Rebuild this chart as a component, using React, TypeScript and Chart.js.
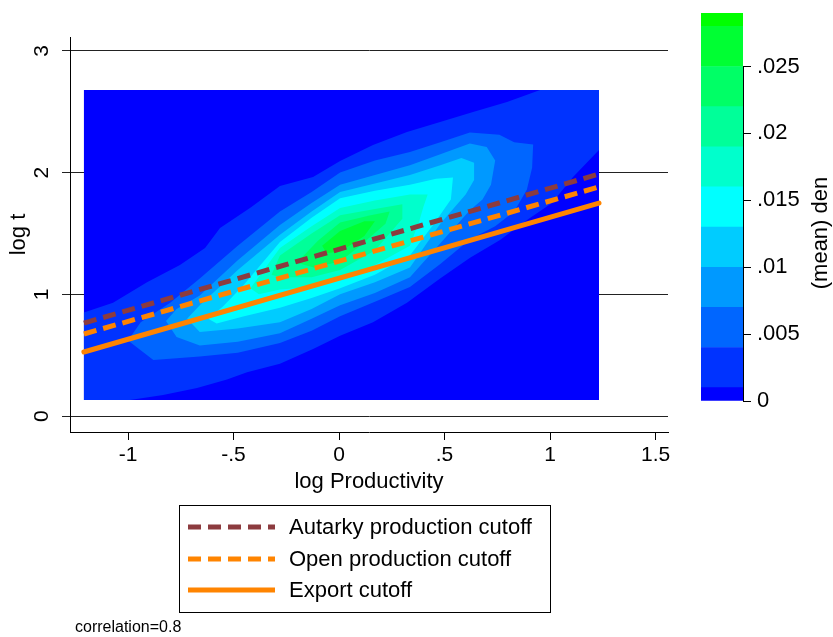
import React, { useEffect, useRef } from 'react';
import { Chart, registerables } from 'chart.js';

Chart.register(...registerables);

const FONT = '"Liberation Sans", Arial, Helvetica, sans-serif';

// ---- axes ----
const xTickValues = [-1, -0.5, 0, 0.5, 1, 1.5];
const xTickLabels = ['-1', '-.5', '0', '.5', '1', '1.5'];
const yTickValues = [0, 1, 2, 3];
const yTickLabels = ['0', '1', '2', '3'];
const xRange = [-1.275, 1.559];
const yRange = [-0.131, 3.114];
const xTitle = 'log Productivity';
const yTitle = 'log t';
const noteText = 'correlation=0.8';

// ---- colour scale (density bands) ----
const densityBreaks = [0, 0.001, 0.004, 0.007, 0.01, 0.013, 0.016, 0.019, 0.022, 0.025, 0.028, 0.029];
const densityColors = ['#0000ff', '#0033ff', '#0066ff', '#0099ff', '#00ccff', '#00ffff', '#00ffcc', '#00ff99', '#00ff66', '#00ff33', '#00ff00'];
const colorbarTickValues = [0, 0.005, 0.01, 0.015, 0.02, 0.025];
const colorbarTickLabels = ['0', '.005', '.01', '.015', '.02', '.025'];
const colorbarTitle = '(mean) den';

// ---- cutoff lines ----
const cutoffLabels = ['Autarky production cutoff', 'Open production cutoff', 'Export cutoff'];
const cutoffX = [-1.209, 1.232];
const autarkyCutoff = [0.764, 1.988];
const openCutoff = [0.674, 1.882];
const exportCutoff = [0.526, 1.75];

// ---- density contour regions (x, y), band 1 = lowest ----
const contourBand1 = [[-1.209, 0.131], [1.232, 0.131], [1.232, 2.679], [-1.209, 2.679]];
const contourBand2 = [
  [-1.209, 0.85], [-1.071, 0.93], [-0.91, 1.1], [-0.754, 1.241], [-0.635, 1.38], [-0.564, 1.545],
  [-0.422, 1.709], [-0.28, 1.89], [-0.123, 1.964], [0.005, 2.095], [0.161, 2.227], [0.322, 2.334],
  [0.479, 2.416], [0.635, 2.498], [0.796, 2.58], [0.953, 2.679], [1.232, 2.679], [1.232, 2.186],
  [1.109, 1.964], [1.009, 1.75], [0.891, 1.611], [0.763, 1.446], [0.621, 1.3], [0.479, 1.13],
  [0.322, 0.93], [0.161, 0.77], [0.005, 0.66], [-0.123, 0.55], [-0.28, 0.43], [-0.436, 0.36],
  [-0.531, 0.3], [-0.673, 0.23], [-0.834, 0.173], [-0.991, 0.131], [-1.209, 0.131],
];
const contourBand3 = [
  [-1.0, 0.62], [-0.94, 0.77], [-0.8, 0.93], [-0.66, 1.13], [-0.48, 1.4], [-0.28, 1.68], [-0.13, 1.84],
  [0.005, 2.0], [0.17, 2.1], [0.336, 2.17], [0.48, 2.25], [0.62, 2.33], [0.76, 2.31], [0.83, 2.25],
  [0.92, 2.23], [0.915, 2.04], [0.89, 1.86], [0.83, 1.68], [0.74, 1.56], [0.62, 1.45], [0.48, 1.25],
  [0.336, 1.06], [0.17, 0.94], [0.005, 0.82], [-0.13, 0.7], [-0.28, 0.6], [-0.48, 0.52], [-0.66, 0.49],
  [-0.88, 0.46],
];
const contourBand4 = [
  [-0.82, 0.78], [-0.77, 0.88], [-0.66, 0.99], [-0.48, 1.28], [-0.28, 1.57], [-0.13, 1.75],
  [0.005, 1.9], [0.17, 1.98], [0.336, 2.06], [0.48, 2.15], [0.62, 2.24], [0.7, 2.21], [0.74, 2.1],
  [0.72, 1.9], [0.68, 1.78], [0.62, 1.69], [0.48, 1.42], [0.336, 1.14], [0.17, 1.01], [0.005, 0.91],
  [-0.13, 0.8], [-0.28, 0.68], [-0.48, 0.61], [-0.66, 0.58], [-0.77, 0.65],
];
const contourBand5 = [
  [-0.72, 0.8], [-0.66, 0.91], [-0.48, 1.2], [-0.28, 1.49], [-0.13, 1.68], [0.005, 1.84], [0.17, 1.91],
  [0.336, 1.98], [0.48, 2.06], [0.58, 2.12], [0.64, 2.08], [0.64, 1.94], [0.6, 1.82], [0.48, 1.58],
  [0.336, 1.22], [0.17, 1.1], [0.005, 1.0], [-0.13, 0.88], [-0.28, 0.77], [-0.48, 0.72], [-0.66, 0.69],
];
const contourBand6 = [
  [-0.62, 0.8], [-0.55, 0.9], [-0.45, 1.08], [-0.28, 1.43], [-0.13, 1.63], [0.005, 1.79], [0.17, 1.85],
  [0.336, 1.9], [0.46, 1.95], [0.54, 1.96], [0.53, 1.78], [0.45, 1.58], [0.336, 1.32], [0.17, 1.16],
  [0.005, 1.05], [-0.13, 0.97], [-0.28, 0.89], [-0.45, 0.82], [-0.58, 0.76],
];
const contourBand7 = [
  [-0.42, 1.05], [-0.28, 1.38], [-0.13, 1.56], [0.005, 1.71], [0.17, 1.77], [0.336, 1.82], [0.42, 1.82],
  [0.4, 1.72], [0.38, 1.6], [0.336, 1.4], [0.17, 1.24], [0.005, 1.12], [-0.13, 1.06], [-0.28, 1.04],
  [-0.38, 1.0],
];
const contourBand8 = [
  [-0.32, 1.16], [-0.28, 1.32], [-0.13, 1.5], [0.005, 1.65], [0.17, 1.7], [0.3, 1.74], [0.3, 1.62],
  [0.17, 1.36], [0.005, 1.2], [-0.13, 1.14], [-0.28, 1.14],
];
const contourBand9 = [
  [-0.2, 1.26], [-0.1, 1.44], [0.005, 1.59], [0.15, 1.65], [0.24, 1.68], [0.22, 1.58], [0.1, 1.4],
  [0.005, 1.27], [-0.12, 1.22],
];
const contourBand10 = [
  [-0.08, 1.4], [0.005, 1.52], [0.12, 1.6], [0.17, 1.6], [0.12, 1.48], [0.005, 1.35], [-0.06, 1.34],
];

const contourBands = [
  contourBand1, contourBand2, contourBand3, contourBand4, contourBand5,
  contourBand6, contourBand7, contourBand8, contourBand9, contourBand10,
];

const AUTARKY_COLOR = '#8c3b3f';
const ORANGE = '#ff8400';

const legendPlugin = {
  id: 'cutoffLegend',
  afterDraw(chart: any) {
    const ctx = chart.ctx;
    ctx.save();
    ctx.strokeStyle = '#000';
    ctx.lineWidth = 1;
    ctx.setLineDash([]);
    ctx.strokeRect(179.5, 505.5, 371, 107);
    const rows = [527, 559, 590];
    const items = chart.data.datasets.filter((d: any) => d.isCutoff);
    items.forEach((ds: any, i: number) => {
      ctx.strokeStyle = ds.borderColor;
      ctx.lineWidth = ds.borderWidth;
      ctx.setLineDash(ds.borderDash || []);
      ctx.lineCap = 'butt';
      ctx.beginPath();
      ctx.moveTo(188, rows[i]);
      ctx.lineTo(275, rows[i]);
      ctx.stroke();
      ctx.setLineDash([]);
      ctx.fillStyle = '#000';
      ctx.font = `22px ${FONT}`;
      ctx.textBaseline = 'middle';
      ctx.textAlign = 'left';
      ctx.fillText(ds.label, 289, rows[i] + 1);
    });
    ctx.font = `16px ${FONT}`;
    ctx.fillStyle = '#000';
    ctx.textBaseline = 'middle';
    ctx.fillText(noteText, 75, 628);
    ctx.restore();
  },
};

const colorbarPlugin = {
  id: 'colorbarExtras',
  afterDraw(chart: any) {
    const ctx = chart.ctx;
    const y = chart.scales.y;
    const x = chart.chartArea.right;
    ctx.save();
    ctx.strokeStyle = '#000';
    ctx.lineWidth = 1;
    ctx.beginPath();
    ctx.moveTo(x + 0.5, y.getPixelForValue(colorbarTickValues[0]));
    ctx.lineTo(x + 0.5, y.getPixelForValue(colorbarTickValues[colorbarTickValues.length - 1]));
    ctx.stroke();
    ctx.translate(131, 233);
    ctx.rotate(-Math.PI / 2);
    ctx.font = `22px ${FONT}`;
    ctx.fillStyle = '#000';
    ctx.textAlign = 'center';
    ctx.textBaseline = 'middle';
    ctx.fillText(colorbarTitle, 0, 0);
    ctx.restore();
  },
};

export default function App() {
  const mainRef = useRef<HTMLCanvasElement>(null);
  const barRef = useRef<HTMLCanvasElement>(null);

  useEffect(() => {
    document.body.style.margin = '0';
    const cutoffDatasets = [
      { label: cutoffLabels[0], values: autarkyCutoff, color: AUTARKY_COLOR, dash: [13, 7], cap: 'butt' },
      { label: cutoffLabels[1], values: openCutoff, color: ORANGE, dash: [13, 7], cap: 'butt' },
      { label: cutoffLabels[2], values: exportCutoff, color: ORANGE, dash: [], cap: 'round' },
    ].map((c) => ({
      label: c.label,
      isCutoff: true,
      data: cutoffX.map((x, i) => ({ x, y: c.values[i] })),
      showLine: true,
      borderColor: c.color,
      borderWidth: 5,
      borderDash: c.dash,
      borderCapStyle: c.cap,
      pointRadius: 0,
      fill: false,
    }));
    const contourDatasets = contourBands
      .map((pts, i) => ({
        label: `band ${i + 1}`,
        data: [...pts, pts[0]].map(([x, y]) => ({ x, y })),
        showLine: true,
        fill: 'shape',
        backgroundColor: densityColors[i],
        borderWidth: 0,
        pointRadius: 0,
      }))
      .reverse();

    const main = new Chart(mainRef.current!, {
      type: 'scatter',
      data: { datasets: [...cutoffDatasets, ...contourDatasets] as any },
      options: {
        animation: false,
        responsive: false,
        maintainAspectRatio: false,
        layout: { padding: { left: 0, top: 37, right: 165, bottom: 137 } },
        plugins: { legend: { display: false }, tooltip: { enabled: false } },
        elements: { line: { tension: 0 }, point: { radius: 0 } },
        scales: {
          x: {
            type: 'linear',
            min: xRange[0],
            max: xRange[1],
            afterBuildTicks: (s: any) => { s.ticks = xTickValues.map((value) => ({ value })); },
            afterFit: (s: any) => { s.height = 68; },
            ticks: {
              autoSkip: false,
              maxRotation: 0,
              callback: (_v: any, i: number) => xTickLabels[i],
              font: { family: FONT, size: 21 },
              color: '#000',
              padding: 3,
            },
            grid: { drawOnChartArea: false, drawTicks: true, tickLength: 8, color: '#000' },
            border: { display: true, color: '#000', width: 1 },
            title: { display: true, text: xTitle, font: { family: FONT, size: 22 }, color: '#000', padding: { top: 0, bottom: 5 } },
          },
          y: {
            type: 'linear',
            min: yRange[0],
            max: yRange[1],
            afterBuildTicks: (s: any) => { s.ticks = yTickValues.map((value) => ({ value })); },
            afterFit: (s: any) => { s.width = 70; },
            ticks: {
              autoSkip: false,
              minRotation: 90,
              maxRotation: 90,
              crossAlign: 'center',
              callback: (_v: any, i: number) => yTickLabels[i],
              font: { family: FONT, size: 21 },
              color: '#000',
              padding: 14,
            },
            grid: { drawOnChartArea: true, drawTicks: true, tickLength: 8, color: '#222', lineWidth: 1 },
            border: { display: true, color: '#000', width: 1 },
            title: { display: true, text: yTitle, font: { family: FONT, size: 22 }, color: '#000', padding: { top: 6, bottom: 0 } },
          },
        },
      } as any,
      plugins: [legendPlugin],
    });

    const bar = new Chart(barRef.current!, {
      type: 'bar',
      data: {
        labels: [''],
        datasets: densityColors.map((c, i) => ({
          label: `${densityBreaks[i]}`,
          data: [[densityBreaks[i], densityBreaks[i + 1]]],
          backgroundColor: c,
          borderWidth: 0,
          barPercentage: 1,
          categoryPercentage: 1,
          grouped: false,
        })) as any,
      },
      options: {
        animation: false,
        responsive: false,
        maintainAspectRatio: false,
        layout: { padding: { left: 11, top: 13, bottom: 19, right: 0 } },
        plugins: { legend: { display: false }, tooltip: { enabled: false } },
        scales: {
          x: { display: false },
          y: {
            position: 'right',
            min: densityBreaks[0],
            max: densityBreaks[densityBreaks.length - 1],
            afterBuildTicks: (s: any) => { s.ticks = colorbarTickValues.map((value) => ({ value })); },
            afterFit: (s: any) => { s.width = 90; s.paddingTop = 0; s.paddingBottom = 0; },
            ticks: {
              autoSkip: false,
              callback: (_v: any, i: number) => colorbarTickLabels[i],
              font: { family: FONT, size: 22 },
              color: '#000',
              padding: 6,
            },
            grid: { drawOnChartArea: false, drawTicks: true, tickLength: 8, color: '#000' },
            border: { display: false },
          },
        },
      } as any,
      plugins: [colorbarPlugin],
    });

    return () => {
      main.destroy();
      bar.destroy();
    };
  }, []);

  return (
    <div style={{ position: 'relative', width: 833, height: 637, background: '#fff' }}>
      <canvas ref={mainRef} width={833} height={637} style={{ position: 'absolute', left: 0, top: 0 }} />
      <canvas ref={barRef} width={143} height={420} style={{ position: 'absolute', left: 690, top: 0 }} />
    </div>
  );
}
